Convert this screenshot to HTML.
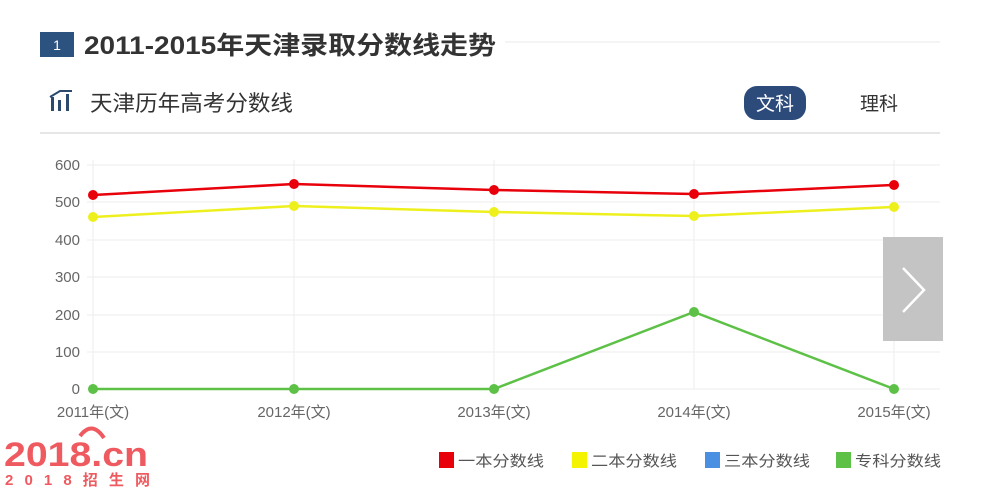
<!DOCTYPE html>
<html><head><meta charset="utf-8"><style>
body{margin:0;background:#fff;width:990px;height:488px;overflow:hidden;font-family:"Liberation Sans","Noto Sans CJK SC",sans-serif;}
svg{position:absolute;left:0;top:0}
</style></head><body>
<svg width="990" height="488" xmlns="http://www.w3.org/2000/svg" font-family="Liberation Sans, Noto Sans CJK SC, sans-serif">
<rect x="40" y="32" width="34" height="25" fill="#2c5380"/>
<text x="57" y="50" fill="#fff" font-size="14" text-anchor="middle">1</text>
<text x="84" y="54" fill="#333" font-size="25" font-weight="bold" textLength="412" lengthAdjust="spacingAndGlyphs">2011-2015年天津录取分数线走势</text>
<line x1="505" y1="42" x2="940" y2="42" stroke="#e8e8e8"/>
<g fill="#2c4a6e">
<rect x="51" y="97" width="3" height="14"/><rect x="58" y="100" width="3" height="11"/><rect x="66" y="94" width="3" height="17"/>
<path d="M50 97 L60 91 L72 91" stroke="#2c4a6e" stroke-width="2" fill="none"/>
</g>
<text x="90" y="111" fill="#333" font-size="22" textLength="203" lengthAdjust="spacingAndGlyphs">天津历年高考分数线</text>
<rect x="744" y="86" width="62" height="34" rx="13" fill="#2c4a7a"/>
<text x="775" y="110" fill="#fff" font-size="19" text-anchor="middle">文科</text>
<text x="879" y="110" fill="#333" font-size="19" text-anchor="middle">理科</text>
<line x1="40" y1="133" x2="940" y2="133" stroke="#e6e6e6" stroke-width="2"/>
<g stroke="#ededed" stroke-width="1">
<line x1="87" y1="165" x2="940" y2="165"/><line x1="87" y1="202" x2="940" y2="202"/><line x1="87" y1="240" x2="940" y2="240"/><line x1="87" y1="277" x2="940" y2="277"/><line x1="87" y1="315" x2="940" y2="315"/><line x1="87" y1="352" x2="940" y2="352"/><line x1="87" y1="389" x2="940" y2="389"/>
<line x1="93" y1="160" x2="93" y2="389"/><line x1="294" y1="160" x2="294" y2="389"/><line x1="494" y1="160" x2="494" y2="389"/><line x1="694" y1="160" x2="694" y2="389"/><line x1="894" y1="160" x2="894" y2="389"/>
</g>
<g fill="#666" font-size="15" text-anchor="end">
<text x="80" y="170">600</text><text x="80" y="207">500</text><text x="80" y="245">400</text><text x="80" y="282">300</text><text x="80" y="320">200</text><text x="80" y="357">100</text><text x="80" y="394">0</text>
</g>
<g fill="#666" font-size="15" text-anchor="middle">
<text x="93" y="417">2011年(文)</text><text x="294" y="417">2012年(文)</text><text x="494" y="417">2013年(文)</text><text x="694" y="417">2014年(文)</text><text x="894" y="417">2015年(文)</text>
</g>
<polyline points="93,195 294,184 494,190 694,194 894,185" fill="none" stroke="#e8000b" stroke-width="2.5"/>
<g fill="#e8000b"><circle cx="93" cy="195" r="5"/><circle cx="294" cy="184" r="5"/><circle cx="494" cy="190" r="5"/><circle cx="694" cy="194" r="5"/><circle cx="894" cy="185" r="5"/></g>
<polyline points="93,217 294,206 494,212 694,216 894,207" fill="none" stroke="#eef01e" stroke-width="2.5"/>
<g fill="#eef01e"><circle cx="93" cy="217" r="5"/><circle cx="294" cy="206" r="5"/><circle cx="494" cy="212" r="5"/><circle cx="694" cy="216" r="5"/><circle cx="894" cy="207" r="5"/></g>
<polyline points="93,389 294,389 494,389 694,312 894,389" fill="none" stroke="#5cc146" stroke-width="2.5"/>
<g fill="#5cc146"><circle cx="93" cy="389" r="5"/><circle cx="294" cy="389" r="5"/><circle cx="494" cy="389" r="5"/><circle cx="694" cy="312" r="5"/><circle cx="894" cy="389" r="5"/></g>
<rect x="883" y="237" width="60" height="104" fill="#c4c4c4"/>
<polyline points="903,268 924,290 903,312" fill="none" stroke="#fff" stroke-width="2.5"/>
<g font-size="15" fill="#555">
<rect x="439" y="452" width="15" height="16" fill="#e8000b"/><text x="458" y="466" textLength="86" lengthAdjust="spacingAndGlyphs">一本分数线</text>
<rect x="572" y="452" width="15" height="16" fill="#f4f400"/><text x="591" y="466" textLength="86" lengthAdjust="spacingAndGlyphs">二本分数线</text>
<rect x="705" y="452" width="15" height="16" fill="#4a90e2"/><text x="724" y="466" textLength="86" lengthAdjust="spacingAndGlyphs">三本分数线</text>
<rect x="836" y="452" width="15" height="16" fill="#5cc146"/><text x="855" y="466" textLength="86" lengthAdjust="spacingAndGlyphs">专科分数线</text>
</g>
<text x="4" y="466" fill="#ee5a5f" font-size="34" font-weight="bold" textLength="144" lengthAdjust="spacingAndGlyphs">2018.cn</text>
<path d="M80 436 Q92 420 104 438" stroke="#ee5a5f" stroke-width="4" fill="none"/>
<text x="5" y="485" fill="#ee5a5f" font-size="15" font-weight="bold" textLength="145" lengthAdjust="spacing">2018招生网</text>
</svg>
</body></html>
